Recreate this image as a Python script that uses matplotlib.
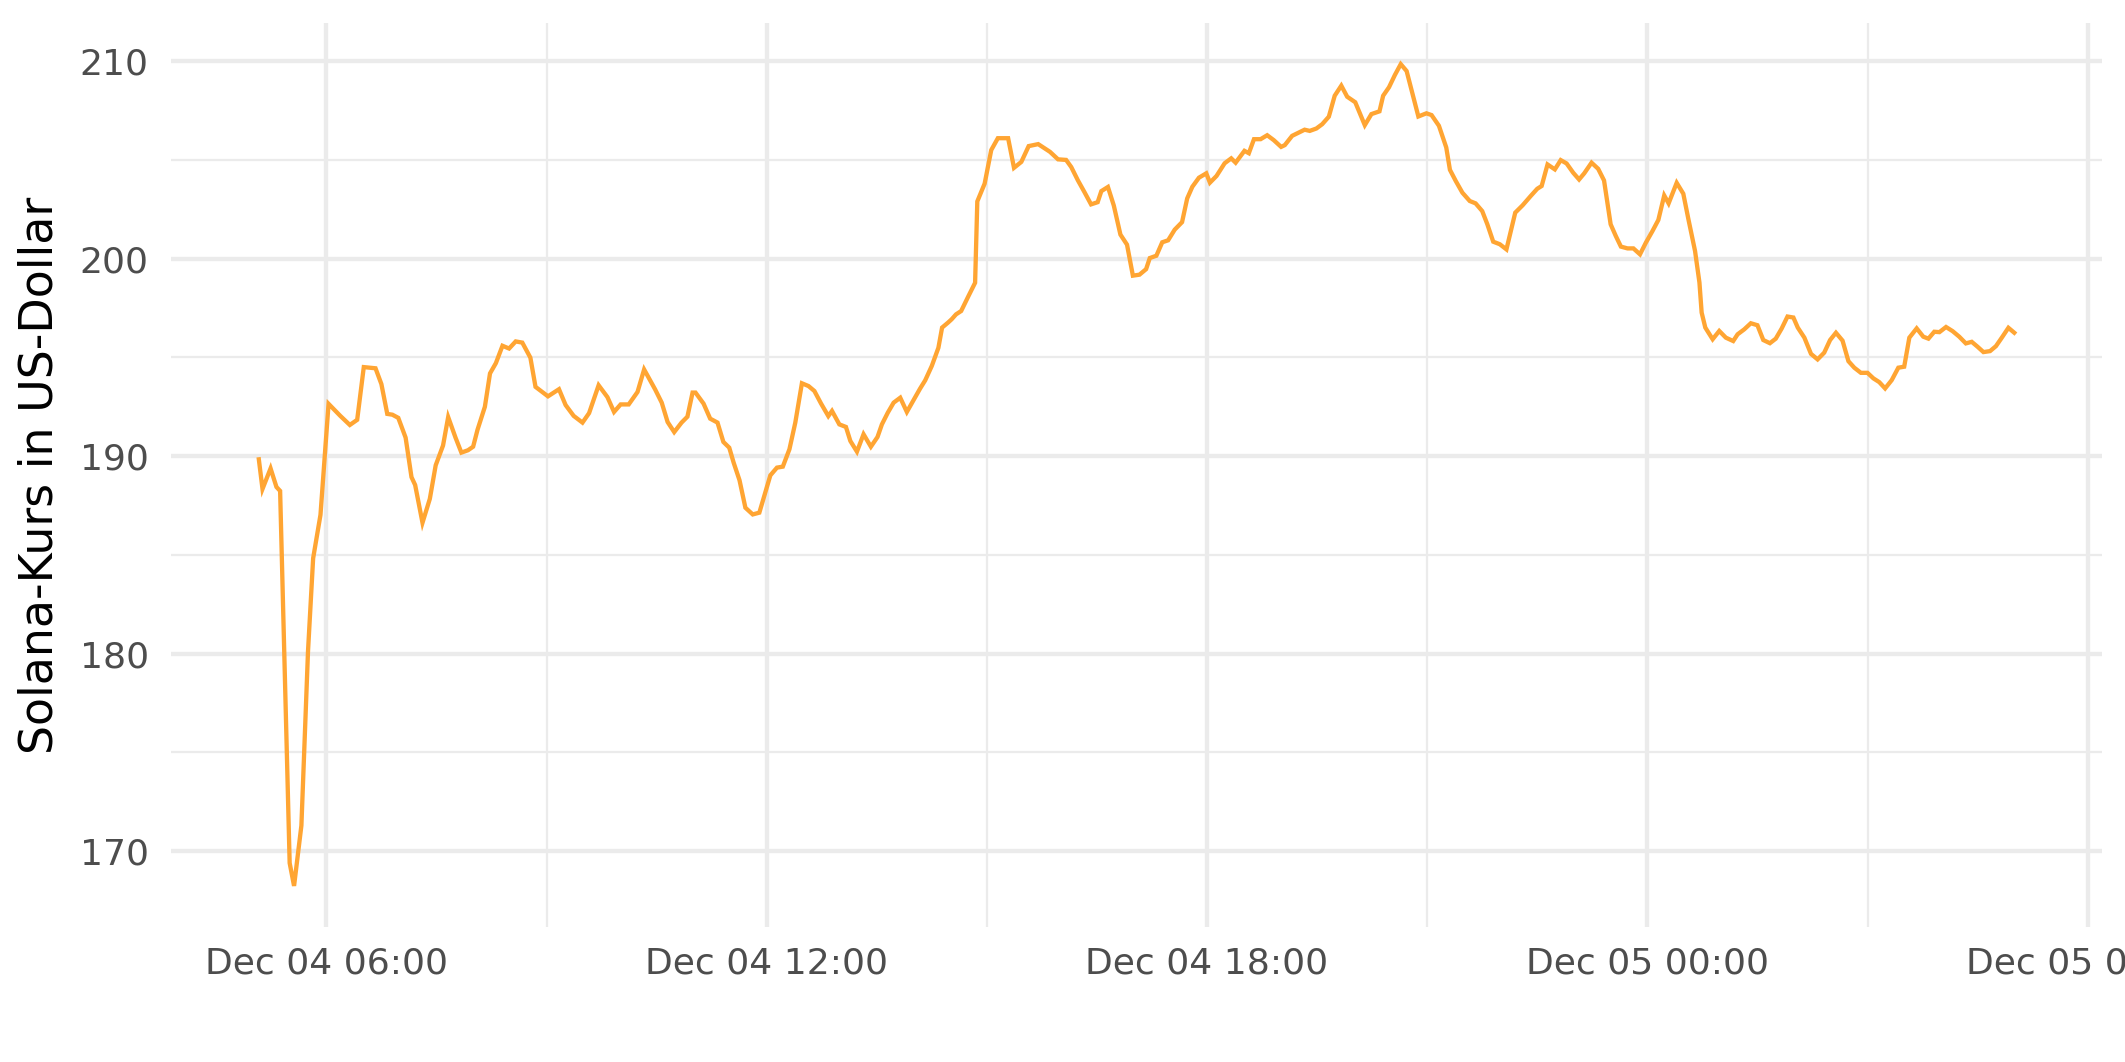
import numpy as np
import pandas as pd
import matplotlib
matplotlib.use("Agg")
import matplotlib.pyplot as plt
import matplotlib.dates as mdates

# hours after 2024-12-04 00:00
hours = [
    5.08, 5.13, 5.24, 5.32, 5.37, 5.50, 5.56, 5.66, 5.75, 5.82, 5.92,
    6.03, 6.19, 6.32, 6.42, 6.51, 6.67, 6.75, 6.83, 6.90, 6.98,
    7.08, 7.16, 7.21, 7.31, 7.41, 7.49, 7.59, 7.66, 7.76, 7.84, 7.93,
    8.00, 8.06, 8.16, 8.23, 8.31, 8.40, 8.49, 8.58, 8.67, 8.78, 8.85,
    9.02, 9.17, 9.26, 9.37, 9.49, 9.58, 9.71, 9.83, 9.92,
    10.01, 10.12, 10.24, 10.33, 10.41, 10.48, 10.57, 10.65, 10.74, 10.84, 10.92, 10.99,
    11.03, 11.14, 11.23, 11.33, 11.41, 11.49, 11.55, 11.63, 11.71, 11.81, 11.90,
    12.05, 12.14, 12.22, 12.31, 12.39, 12.48, 12.57, 12.65, 12.74, 12.84, 12.89, 12.99,
    13.08, 13.14, 13.23, 13.32, 13.42, 13.51, 13.57, 13.65, 13.73, 13.82, 13.91,
    14.00, 14.09, 14.16, 14.25, 14.34, 14.39, 14.47, 14.52, 14.58, 14.65, 14.75, 14.84,
    14.87, 14.97, 15.06, 15.15, 15.29, 15.37, 15.47, 15.57, 15.70, 15.86, 15.97,
    16.08, 16.15, 16.24, 16.33, 16.42, 16.51, 16.56, 16.65, 16.73, 16.82, 16.91, 16.99,
    17.08, 17.17, 17.22, 17.31, 17.39, 17.47, 17.56, 17.66, 17.73, 17.80, 17.89, 17.99,
    18.04, 18.13, 18.24, 18.33, 18.39, 18.51, 18.57, 18.64, 18.73, 18.82, 18.91,
    19.01, 19.06, 19.16, 19.33, 19.40, 19.49, 19.57, 19.66, 19.74, 19.83, 19.91,
    20.02, 20.15, 20.24, 20.35, 20.40, 20.48, 20.56, 20.64, 20.72, 20.80, 20.88, 20.99,
    21.06, 21.16, 21.26, 21.31, 21.39, 21.48, 21.58, 21.66, 21.75, 21.82, 21.90, 21.99,
    22.08, 22.20, 22.30, 22.41, 22.50, 22.56, 22.64, 22.74, 22.82, 22.90, 22.99,
    23.07, 23.14, 23.24, 23.33, 23.41, 23.50, 23.57, 23.64, 23.73, 23.81, 23.90, 23.98,
    24.07, 24.15, 24.23, 24.29, 24.40, 24.49, 24.56, 24.65, 24.71, 24.74, 24.79, 24.89, 24.98,
    25.07, 25.17, 25.23, 25.32, 25.41, 25.50, 25.58, 25.67, 25.75, 25.83, 25.91, 25.99,
    26.05, 26.14, 26.23, 26.32, 26.41, 26.49, 26.57, 26.66, 26.74, 26.82, 26.91,
    27.00, 27.08, 27.16, 27.24, 27.33, 27.42, 27.50, 27.57, 27.67, 27.76, 27.83, 27.91, 27.98,
    28.07, 28.16, 28.25, 28.34, 28.42, 28.50, 28.58, 28.67, 28.75, 28.83, 28.92, 29.00,
]

price = [
    189.84, 188.34, 189.38, 188.44, 188.24, 169.40, 168.24, 171.30, 180.12, 184.83, 187.03,
    192.65, 192.04, 191.58, 191.84, 194.51, 194.45, 193.65, 192.14, 192.10, 191.94,
    190.94, 188.94, 188.54, 186.63, 187.84, 189.54, 190.54, 191.98, 190.94, 190.18, 190.30,
    190.48, 191.34, 192.50, 194.19, 194.71, 195.59, 195.45, 195.81, 195.75, 194.99, 193.51,
    193.03, 193.39, 192.59, 192.04, 191.70, 192.18, 193.59, 192.99, 192.24,
    192.62, 192.62, 193.25, 194.39, 193.85, 193.38, 192.71, 191.73, 191.22, 191.70, 192.00, 193.22,
    193.22, 192.66, 191.90, 191.70, 190.72, 190.43, 189.67, 188.78, 187.39, 187.05, 187.14,
    189.03, 189.42, 189.47, 190.35, 191.70, 193.69, 193.55, 193.30, 192.67, 192.03, 192.29, 191.61,
    191.48, 190.77, 190.23, 191.11, 190.48, 190.97, 191.61, 192.20, 192.71, 192.96, 192.24,
    192.83, 193.42, 193.84, 194.57, 195.49, 196.51, 196.76, 196.93, 197.18, 197.35, 198.11, 198.78,
    202.90, 203.80, 205.50, 206.10, 206.10, 204.60, 204.90, 205.70, 205.80, 205.41, 205.03,
    205.00, 204.64, 203.97, 203.37, 202.75, 202.86, 203.42, 203.63, 202.69, 201.22, 200.71, 199.14,
    199.19, 199.47, 200.03, 200.15, 200.83, 200.93, 201.47, 201.85, 203.05, 203.64, 204.10, 204.32,
    203.85, 204.19, 204.83, 205.08, 204.86, 205.46, 205.34, 206.05, 206.05, 206.25, 206.00,
    205.66, 205.75, 206.22, 206.53, 206.47, 206.59, 206.81, 207.19, 208.25, 208.76, 208.20,
    207.92, 206.76, 207.32, 207.46, 208.25, 208.68, 209.30, 209.85, 209.50, 208.34, 207.20, 207.36,
    207.27, 206.73, 205.63, 204.50, 203.93, 203.34, 202.92, 202.80, 202.41, 201.74, 200.86, 200.73,
    200.47, 202.33, 202.70, 203.17, 203.54, 203.68, 204.77, 204.52, 204.99, 204.82, 204.35,
    204.01, 204.32, 204.86, 204.55, 203.96, 201.74, 201.15, 200.61, 200.52, 200.52, 200.22, 200.81,
    201.40, 201.96, 203.20, 202.80, 203.84, 203.29, 201.99, 200.39, 198.79, 197.27, 196.51, 195.92, 196.34,
    196.00, 195.83, 196.17, 196.42, 196.73, 196.63, 195.88, 195.72, 195.95, 196.46, 197.07, 197.02,
    196.51, 196.00, 195.18, 194.90, 195.24, 195.88, 196.25, 195.85, 194.81, 194.48, 194.22,
    194.22, 193.94, 193.75, 193.43, 193.85, 194.48, 194.53, 196.00, 196.47, 196.05, 195.95, 196.30, 196.28,
    196.54, 196.33, 196.05, 195.71, 195.79, 195.54, 195.27, 195.32, 195.57, 196.00, 196.50, 196.25,
]

y_ticks = [170, 180, 190, 200, 210]
y_label = "Solana-Kurs in US-Dollar"

start = pd.Timestamp("2024-12-04 00:00")
times = start + pd.to_timedelta(hours, unit="h")

fig = plt.figure(figsize=(21.25, 10.62), dpi=100)
ax = fig.add_axes([0.0805, 0.1271, 0.9087, 0.8512])

ax.plot(times, price, color="#FFA533", lw=3.1, solid_joinstyle="miter")
ax.margins(x=0.05, y=0.05)

ax.set_yticks(y_ticks)
ax.set_yticks([175, 185, 195, 205], minor=True)
ax.xaxis.set_major_locator(mdates.HourLocator(byhour=[0, 6, 12, 18]))
ax.xaxis.set_minor_locator(mdates.HourLocator(byhour=[3, 9, 15, 21]))
ax.xaxis.set_major_formatter(mdates.DateFormatter("%b %d %H:%M"))

ax.set_axisbelow(True)
ax.grid(which="major", color="#EBEBEB", lw=3.1)
ax.grid(which="minor", color="#EBEBEB", lw=1.6)
for s in ax.spines.values():
    s.set_visible(False)
ax.tick_params(which="both", length=0)
ax.tick_params(axis="y", labelsize=26, labelcolor="#4D4D4D", pad=16)
ax.tick_params(axis="x", labelsize=26, labelcolor="#4D4D4D", pad=14)

ax.set_ylabel(y_label, fontsize=33, color="black", va="center")
ax.yaxis.set_label_coords(-0.068, 0.5)

fig.savefig("out.png", dpi=100, facecolor="white")
